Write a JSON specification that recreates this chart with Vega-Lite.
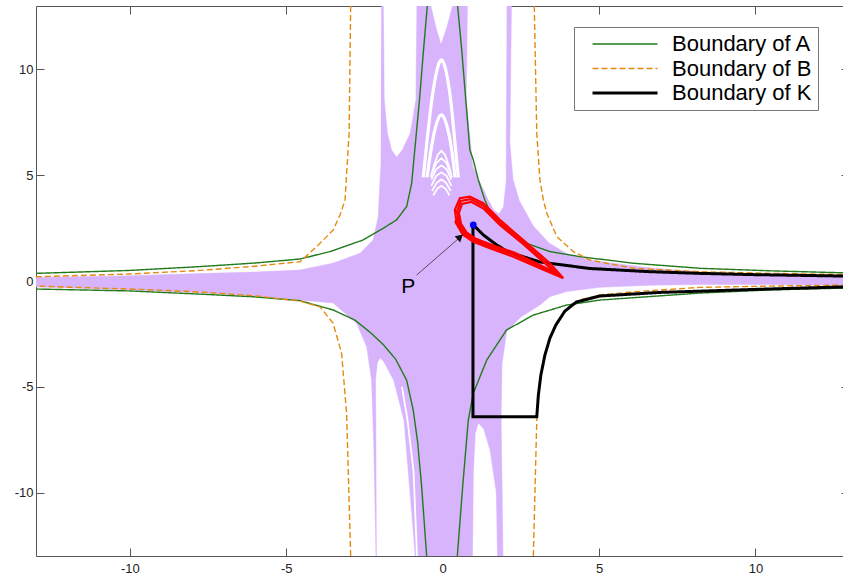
{
  "$schema": "https://vega.github.io/schema/vega-lite/v6.json",
  "width": 807,
  "height": 550,
  "padding": {"left": 36, "top": 6, "right": 0, "bottom": 24},
  "autosize": {"type": "none"},
  "background": "white",
  "config": {
    "view": {"stroke": null},
    "font": "Liberation Sans",
    "axis": {
      "domainColor": "#555555",
      "tickColor": "#555555",
      "labelColor": "#222222",
      "labelFont": "Liberation Sans",
      "labelFontSize": 13,
      "grid": false,
      "title": null,
      "tickSize": -8,
      "domainWidth": 1,
      "tickWidth": 1
    }
  },
  "datasets": {
    "env": [
      {"part": "env", "i": 1, "x": -1.96, "y": 13},
      {"part": "env", "i": 2, "x": 2.2, "y": 13},
      {"part": "env", "i": 3, "x": 2.15, "y": 6.5},
      {"part": "env", "i": 4, "x": 2.25, "y": 4.8},
      {"part": "env", "i": 5, "x": 2.45, "y": 3.8},
      {"part": "env", "i": 6, "x": 2.9, "y": 2.6},
      {"part": "env", "i": 7, "x": 3.4, "y": 1.8},
      {"part": "env", "i": 8, "x": 3.96, "y": 1.3},
      {"part": "env", "i": 9, "x": 4.71, "y": 0.98},
      {"part": "env", "i": 10, "x": 6.63, "y": 0.62},
      {"part": "env", "i": 11, "x": 8.23, "y": 0.42},
      {"part": "env", "i": 12, "x": 10, "y": 0.31},
      {"part": "env", "i": 13, "x": 13, "y": 0.2},
      {"part": "env", "i": 14, "x": 13, "y": -0.2},
      {"part": "env", "i": 15, "x": 10, "y": -0.16},
      {"part": "env", "i": 16, "x": 8.23, "y": -0.16},
      {"part": "env", "i": 17, "x": 6.63, "y": -0.2},
      {"part": "env", "i": 18, "x": 5.03, "y": -0.3},
      {"part": "env", "i": 19, "x": 3.96, "y": -0.5},
      {"part": "env", "i": 20, "x": 3.43, "y": -0.74},
      {"part": "env", "i": 21, "x": 3.11, "y": -1.14},
      {"part": "env", "i": 22, "x": 2.5, "y": -1.7},
      {"part": "env", "i": 23, "x": 2.05, "y": -2.37},
      {"part": "env", "i": 24, "x": 1.9, "y": -3.9},
      {"part": "env", "i": 25, "x": 1.87, "y": -6.4},
      {"part": "env", "i": 26, "x": 1.93, "y": -13},
      {"part": "env", "i": 27, "x": -2.13, "y": -13},
      {"part": "env", "i": 28, "x": -2.2, "y": -7.84},
      {"part": "env", "i": 29, "x": -2.27, "y": -4.69},
      {"part": "env", "i": 30, "x": -2.43, "y": -3.1},
      {"part": "env", "i": 31, "x": -2.75, "y": -2.0},
      {"part": "env", "i": 32, "x": -3.5, "y": -1.04},
      {"part": "env", "i": 33, "x": -4.56, "y": -0.9},
      {"part": "env", "i": 34, "x": -6, "y": -0.7},
      {"part": "env", "i": 35, "x": -7.76, "y": -0.55},
      {"part": "env", "i": 36, "x": -10, "y": -0.42},
      {"part": "env", "i": 37, "x": -13, "y": -0.28},
      {"part": "env", "i": 38, "x": -13, "y": 0.17},
      {"part": "env", "i": 39, "x": -10, "y": 0.25},
      {"part": "env", "i": 40, "x": -7.76, "y": 0.35},
      {"part": "env", "i": 41, "x": -6, "y": 0.42},
      {"part": "env", "i": 42, "x": -4.56, "y": 0.52},
      {"part": "env", "i": 43, "x": -3.51, "y": 0.84},
      {"part": "env", "i": 44, "x": -2.64, "y": 1.31},
      {"part": "env", "i": 45, "x": -2.22, "y": 1.94},
      {"part": "env", "i": 46, "x": -2.06, "y": 3.04},
      {"part": "env", "i": 47, "x": -1.98, "y": 5.4}
    ],
    "holes": [
      {"part": "w1", "i": 1, "x": -1.88, "y": 13},
      {"part": "w1", "i": 2, "x": -1.85, "y": 8.57},
      {"part": "w1", "i": 3, "x": -1.75, "y": 7.0},
      {"part": "w1", "i": 4, "x": -1.62, "y": 6.2},
      {"part": "w1", "i": 5, "x": -1.47, "y": 5.88},
      {"part": "w1", "i": 6, "x": -1.3, "y": 6.2},
      {"part": "w1", "i": 7, "x": -1.05, "y": 7.0},
      {"part": "w1", "i": 8, "x": -0.87, "y": 8.57},
      {"part": "w1", "i": 9, "x": -0.84, "y": 13},
      {"part": "w2", "i": 1, "x": 0.81, "y": 13},
      {"part": "w2", "i": 2, "x": 0.77, "y": 8.57},
      {"part": "w2", "i": 3, "x": 0.98, "y": 5.41},
      {"part": "w2", "i": 4, "x": 1.45, "y": 3.9},
      {"part": "w2", "i": 5, "x": 1.65, "y": 3.35},
      {"part": "w2", "i": 6, "x": 1.8, "y": 3.2},
      {"part": "w2", "i": 7, "x": 1.93, "y": 3.5},
      {"part": "w2", "i": 8, "x": 2.02, "y": 4.8},
      {"part": "w2", "i": 9, "x": 2.02, "y": 6.5},
      {"part": "w2", "i": 10, "x": 2.04, "y": 13},
      {"part": "wt", "i": 1, "x": -0.36, "y": 13},
      {"part": "wt", "i": 2, "x": -0.2, "y": 12},
      {"part": "wt", "i": 3, "x": -0.05, "y": 11.25},
      {"part": "wt", "i": 4, "x": 0.12, "y": 12},
      {"part": "wt", "i": 5, "x": 0.3, "y": 13},
      {"part": "wc", "i": 1, "x": -2.1, "y": -13},
      {"part": "wc", "i": 2, "x": -2.12, "y": -6.6},
      {"part": "wc", "i": 3, "x": -2.13, "y": -4.69},
      {"part": "wc", "i": 4, "x": -2.07, "y": -3.85},
      {"part": "wc", "i": 5, "x": -2.0, "y": -3.66},
      {"part": "wc", "i": 6, "x": -1.9, "y": -3.8},
      {"part": "wc", "i": 7, "x": -1.58, "y": -4.69},
      {"part": "wc", "i": 8, "x": -1.25, "y": -6.6},
      {"part": "wc", "i": 9, "x": -0.89, "y": -13},
      {"part": "wd", "i": 1, "x": 0.97, "y": -13},
      {"part": "wd", "i": 2, "x": 1.0, "y": -9},
      {"part": "wd", "i": 3, "x": 1.06, "y": -7.2},
      {"part": "wd", "i": 4, "x": 1.15, "y": -6.75},
      {"part": "wd", "i": 5, "x": 1.3, "y": -7.0},
      {"part": "wd", "i": 6, "x": 1.5, "y": -8},
      {"part": "wd", "i": 7, "x": 1.7, "y": -10},
      {"part": "wd", "i": 8, "x": 1.74, "y": -13}
    ],
    "wide": [
      {"part": "s1", "i": 1, "x": -0.62, "y": 4.9},
      {"part": "s1", "i": 2, "x": -0.5, "y": 6.6},
      {"part": "s1", "i": 3, "x": -0.36, "y": 8.4},
      {"part": "s1", "i": 4, "x": -0.22, "y": 9.7},
      {"part": "s1", "i": 5, "x": -0.1, "y": 10.35},
      {"part": "s1", "i": 6, "x": -0.04, "y": 10.45},
      {"part": "s1", "i": 7, "x": 0.02, "y": 10.35},
      {"part": "s1", "i": 8, "x": 0.14, "y": 9.7},
      {"part": "s1", "i": 9, "x": 0.27, "y": 8.4},
      {"part": "s1", "i": 10, "x": 0.39, "y": 6.6},
      {"part": "s1", "i": 11, "x": 0.5, "y": 4.9},
      {"part": "s2", "i": 1, "x": -0.5, "y": 4.9},
      {"part": "s2", "i": 2, "x": -0.36, "y": 6.3},
      {"part": "s2", "i": 3, "x": -0.24, "y": 7.2},
      {"part": "s2", "i": 4, "x": -0.13, "y": 7.7},
      {"part": "s2", "i": 5, "x": -0.04, "y": 7.85},
      {"part": "s2", "i": 6, "x": 0.05, "y": 7.7},
      {"part": "s2", "i": 7, "x": 0.16, "y": 7.2},
      {"part": "s2", "i": 8, "x": 0.28, "y": 6.3},
      {"part": "s2", "i": 9, "x": 0.4, "y": 4.9}
    ],
    "thin": [
      {"part": "s3", "i": 1, "x": -0.38, "y": 4.9},
      {"part": "s3", "i": 2, "x": -0.27, "y": 5.5},
      {"part": "s3", "i": 3, "x": -0.15, "y": 5.98},
      {"part": "s3", "i": 4, "x": -0.04, "y": 6.15},
      {"part": "s3", "i": 5, "x": 0.07, "y": 5.98},
      {"part": "s3", "i": 6, "x": 0.19, "y": 5.5},
      {"part": "s3", "i": 7, "x": 0.3, "y": 4.9},
      {"part": "a1", "i": 1, "x": -0.34, "y": 5.1},
      {"part": "a1", "i": 2, "x": -0.2, "y": 5.58},
      {"part": "a1", "i": 3, "x": -0.04, "y": 5.8},
      {"part": "a1", "i": 4, "x": 0.12, "y": 5.58},
      {"part": "a1", "i": 5, "x": 0.26, "y": 5.1},
      {"part": "a2", "i": 1, "x": -0.36, "y": 4.8},
      {"part": "a2", "i": 2, "x": -0.21, "y": 5.28},
      {"part": "a2", "i": 3, "x": -0.04, "y": 5.47},
      {"part": "a2", "i": 4, "x": 0.13, "y": 5.28},
      {"part": "a2", "i": 5, "x": 0.28, "y": 4.8},
      {"part": "a3", "i": 1, "x": -0.36, "y": 4.5},
      {"part": "a3", "i": 2, "x": -0.21, "y": 4.96},
      {"part": "a3", "i": 3, "x": -0.04, "y": 5.14},
      {"part": "a3", "i": 4, "x": 0.13, "y": 4.96},
      {"part": "a3", "i": 5, "x": 0.28, "y": 4.5},
      {"part": "a4", "i": 1, "x": -0.34, "y": 4.25},
      {"part": "a4", "i": 2, "x": -0.19, "y": 4.64},
      {"part": "a4", "i": 3, "x": -0.04, "y": 4.8},
      {"part": "a4", "i": 4, "x": 0.11, "y": 4.64},
      {"part": "a4", "i": 5, "x": 0.26, "y": 4.25},
      {"part": "a5", "i": 1, "x": -0.3, "y": 4.05},
      {"part": "a5", "i": 2, "x": -0.17, "y": 4.37},
      {"part": "a5", "i": 3, "x": -0.04, "y": 4.5},
      {"part": "a5", "i": 4, "x": 0.09, "y": 4.37},
      {"part": "a5", "i": 5, "x": 0.22, "y": 4.05},
      {"part": "sl", "i": 1, "x": -1.3, "y": -5.0},
      {"part": "sl", "i": 2, "x": -1.12, "y": -6.6},
      {"part": "sl", "i": 3, "x": -0.93, "y": -9},
      {"part": "sl", "i": 4, "x": -0.82, "y": -13}
    ],
    "curves": [
      {"series": "Boundary of A", "branch": "a1", "i": 1, "x": -0.49, "y": 13},
      {"series": "Boundary of A", "branch": "a1", "i": 2, "x": -0.61, "y": 10.93},
      {"series": "Boundary of A", "branch": "a1", "i": 3, "x": -0.74, "y": 8.57},
      {"series": "Boundary of A", "branch": "a1", "i": 4, "x": -0.89, "y": 6.2},
      {"series": "Boundary of A", "branch": "a1", "i": 5, "x": -0.99, "y": 4.62},
      {"series": "Boundary of A", "branch": "a1", "i": 6, "x": -1.15, "y": 3.52},
      {"series": "Boundary of A", "branch": "a1", "i": 7, "x": -1.47, "y": 2.89},
      {"series": "Boundary of A", "branch": "a1", "i": 8, "x": -1.9, "y": 2.49},
      {"series": "Boundary of A", "branch": "a1", "i": 9, "x": -2.54, "y": 1.94},
      {"series": "Boundary of A", "branch": "a1", "i": 10, "x": -3.6, "y": 1.39},
      {"series": "Boundary of A", "branch": "a1", "i": 11, "x": -4.56, "y": 1.04},
      {"series": "Boundary of A", "branch": "a1", "i": 12, "x": -6, "y": 0.85},
      {"series": "Boundary of A", "branch": "a1", "i": 13, "x": -7.76, "y": 0.68},
      {"series": "Boundary of A", "branch": "a1", "i": 14, "x": -10, "y": 0.5},
      {"series": "Boundary of A", "branch": "a1", "i": 15, "x": -13, "y": 0.36},
      {"series": "Boundary of A", "branch": "a2", "i": 1, "x": 0.48, "y": 13},
      {"series": "Boundary of A", "branch": "a2", "i": 2, "x": 0.61, "y": 10.93},
      {"series": "Boundary of A", "branch": "a2", "i": 3, "x": 0.74, "y": 8.57},
      {"series": "Boundary of A", "branch": "a2", "i": 4, "x": 0.87, "y": 6.2},
      {"series": "Boundary of A", "branch": "a2", "i": 5, "x": 0.98, "y": 5.73},
      {"series": "Boundary of A", "branch": "a2", "i": 6, "x": 1.14, "y": 4.78},
      {"series": "Boundary of A", "branch": "a2", "i": 7, "x": 1.35, "y": 3.83},
      {"series": "Boundary of A", "branch": "a2", "i": 8, "x": 1.51, "y": 3.28},
      {"series": "Boundary of A", "branch": "a2", "i": 9, "x": 2.05, "y": 2.41},
      {"series": "Boundary of A", "branch": "a2", "i": 10, "x": 2.69, "y": 1.78},
      {"series": "Boundary of A", "branch": "a2", "i": 11, "x": 3.43, "y": 1.39},
      {"series": "Boundary of A", "branch": "a2", "i": 12, "x": 4.39, "y": 1.15},
      {"series": "Boundary of A", "branch": "a2", "i": 13, "x": 6.09, "y": 0.84},
      {"series": "Boundary of A", "branch": "a2", "i": 14, "x": 8.23, "y": 0.6},
      {"series": "Boundary of A", "branch": "a2", "i": 15, "x": 10.5, "y": 0.48},
      {"series": "Boundary of A", "branch": "a2", "i": 16, "x": 13, "y": 0.38},
      {"series": "Boundary of A", "branch": "a3", "i": 1, "x": -13, "y": -0.38},
      {"series": "Boundary of A", "branch": "a3", "i": 2, "x": -10, "y": -0.47},
      {"series": "Boundary of A", "branch": "a3", "i": 3, "x": -7.76, "y": -0.62},
      {"series": "Boundary of A", "branch": "a3", "i": 4, "x": -6, "y": -0.75},
      {"series": "Boundary of A", "branch": "a3", "i": 5, "x": -4.56, "y": -0.93},
      {"series": "Boundary of A", "branch": "a3", "i": 6, "x": -3.5, "y": -1.37},
      {"series": "Boundary of A", "branch": "a3", "i": 7, "x": -2.8, "y": -1.85},
      {"series": "Boundary of A", "branch": "a3", "i": 8, "x": -2.3, "y": -2.45},
      {"series": "Boundary of A", "branch": "a3", "i": 9, "x": -1.9, "y": -3.0},
      {"series": "Boundary of A", "branch": "a3", "i": 10, "x": -1.5, "y": -3.7},
      {"series": "Boundary of A", "branch": "a3", "i": 11, "x": -1.15, "y": -4.69},
      {"series": "Boundary of A", "branch": "a3", "i": 12, "x": -0.94, "y": -6.1},
      {"series": "Boundary of A", "branch": "a3", "i": 13, "x": -0.8, "y": -7.6},
      {"series": "Boundary of A", "branch": "a3", "i": 14, "x": -0.67, "y": -9.73},
      {"series": "Boundary of A", "branch": "a3", "i": 15, "x": -0.51, "y": -13},
      {"series": "Boundary of A", "branch": "a4", "i": 1, "x": 13, "y": -0.33},
      {"series": "Boundary of A", "branch": "a4", "i": 2, "x": 10.5, "y": -0.42},
      {"series": "Boundary of A", "branch": "a4", "i": 3, "x": 8.23, "y": -0.57},
      {"series": "Boundary of A", "branch": "a4", "i": 4, "x": 5.03, "y": -0.9},
      {"series": "Boundary of A", "branch": "a4", "i": 5, "x": 3.96, "y": -1.14},
      {"series": "Boundary of A", "branch": "a4", "i": 6, "x": 2.9, "y": -1.61},
      {"series": "Boundary of A", "branch": "a4", "i": 7, "x": 2.04, "y": -2.32},
      {"series": "Boundary of A", "branch": "a4", "i": 8, "x": 1.41, "y": -3.74},
      {"series": "Boundary of A", "branch": "a4", "i": 9, "x": 0.98, "y": -5.31},
      {"series": "Boundary of A", "branch": "a4", "i": 10, "x": 0.82, "y": -6.58},
      {"series": "Boundary of A", "branch": "a4", "i": 11, "x": 0.64, "y": -9.73},
      {"series": "Boundary of A", "branch": "a4", "i": 12, "x": 0.47, "y": -13},
      {"series": "Boundary of B", "branch": "b1", "i": 1, "x": -2.94, "y": 13},
      {"series": "Boundary of B", "branch": "b1", "i": 2, "x": -2.99, "y": 6.99},
      {"series": "Boundary of B", "branch": "b1", "i": 3, "x": -3.12, "y": 3.83},
      {"series": "Boundary of B", "branch": "b1", "i": 4, "x": -3.28, "y": 3.12},
      {"series": "Boundary of B", "branch": "b1", "i": 5, "x": -3.5, "y": 2.41},
      {"series": "Boundary of B", "branch": "b1", "i": 6, "x": -4.03, "y": 1.62},
      {"series": "Boundary of B", "branch": "b1", "i": 7, "x": -4.56, "y": 0.91},
      {"series": "Boundary of B", "branch": "b1", "i": 8, "x": -6, "y": 0.7},
      {"series": "Boundary of B", "branch": "b1", "i": 9, "x": -7.76, "y": 0.5},
      {"series": "Boundary of B", "branch": "b1", "i": 10, "x": -10, "y": 0.33},
      {"series": "Boundary of B", "branch": "b1", "i": 11, "x": -13, "y": 0.2},
      {"series": "Boundary of B", "branch": "b2", "i": 1, "x": -2.94, "y": -13},
      {"series": "Boundary of B", "branch": "b2", "i": 2, "x": -3.07, "y": -6.26},
      {"series": "Boundary of B", "branch": "b2", "i": 3, "x": -3.23, "y": -3.42},
      {"series": "Boundary of B", "branch": "b2", "i": 4, "x": -3.5, "y": -2.0},
      {"series": "Boundary of B", "branch": "b2", "i": 5, "x": -3.92, "y": -1.22},
      {"series": "Boundary of B", "branch": "b2", "i": 6, "x": -4.56, "y": -0.95},
      {"series": "Boundary of B", "branch": "b2", "i": 7, "x": -6, "y": -0.7},
      {"series": "Boundary of B", "branch": "b2", "i": 8, "x": -7.76, "y": -0.52},
      {"series": "Boundary of B", "branch": "b2", "i": 9, "x": -10, "y": -0.38},
      {"series": "Boundary of B", "branch": "b2", "i": 10, "x": -13, "y": -0.24},
      {"series": "Boundary of B", "branch": "b3", "i": 1, "x": 2.93, "y": 13},
      {"series": "Boundary of B", "branch": "b3", "i": 2, "x": 3.01, "y": 6.99},
      {"series": "Boundary of B", "branch": "b3", "i": 3, "x": 3.11, "y": 4.78},
      {"series": "Boundary of B", "branch": "b3", "i": 4, "x": 3.22, "y": 3.83},
      {"series": "Boundary of B", "branch": "b3", "i": 5, "x": 3.33, "y": 3.2},
      {"series": "Boundary of B", "branch": "b3", "i": 6, "x": 3.65, "y": 2.1},
      {"series": "Boundary of B", "branch": "b3", "i": 7, "x": 4.18, "y": 1.39},
      {"series": "Boundary of B", "branch": "b3", "i": 8, "x": 4.71, "y": 0.99},
      {"series": "Boundary of B", "branch": "b3", "i": 9, "x": 6.1, "y": 0.6},
      {"series": "Boundary of B", "branch": "b3", "i": 10, "x": 8.23, "y": 0.44},
      {"series": "Boundary of B", "branch": "b3", "i": 11, "x": 10.5, "y": 0.36},
      {"series": "Boundary of B", "branch": "b3", "i": 12, "x": 13, "y": 0.3},
      {"series": "Boundary of B", "branch": "b4", "i": 1, "x": 2.9, "y": -13},
      {"series": "Boundary of B", "branch": "b4", "i": 2, "x": 3.01, "y": -6.58},
      {"series": "Boundary of B", "branch": "b4", "i": 3, "x": 3.06, "y": -5.4},
      {"series": "Boundary of B", "branch": "b4", "i": 4, "x": 3.14, "y": -4.45},
      {"series": "Boundary of B", "branch": "b4", "i": 5, "x": 3.27, "y": -3.5},
      {"series": "Boundary of B", "branch": "b4", "i": 6, "x": 3.43, "y": -2.7},
      {"series": "Boundary of B", "branch": "b4", "i": 7, "x": 3.62, "y": -2.08},
      {"series": "Boundary of B", "branch": "b4", "i": 8, "x": 3.91, "y": -1.42},
      {"series": "Boundary of B", "branch": "b4", "i": 9, "x": 4.39, "y": -0.9},
      {"series": "Boundary of B", "branch": "b4", "i": 10, "x": 5.03, "y": -0.66},
      {"series": "Boundary of B", "branch": "b4", "i": 11, "x": 6.1, "y": -0.51},
      {"series": "Boundary of B", "branch": "b4", "i": 12, "x": 8.23, "y": -0.3},
      {"series": "Boundary of B", "branch": "b4", "i": 13, "x": 10.5, "y": -0.24},
      {"series": "Boundary of B", "branch": "b4", "i": 14, "x": 13, "y": -0.19},
      {"series": "Boundary of K", "branch": "k", "i": 1, "x": 13, "y": 0.23},
      {"series": "Boundary of K", "branch": "k", "i": 2, "x": 10, "y": 0.3},
      {"series": "Boundary of K", "branch": "k", "i": 3, "x": 8.23, "y": 0.36},
      {"series": "Boundary of K", "branch": "k", "i": 4, "x": 6.63, "y": 0.44},
      {"series": "Boundary of K", "branch": "k", "i": 5, "x": 4.71, "y": 0.59},
      {"series": "Boundary of K", "branch": "k", "i": 6, "x": 3.11, "y": 0.9},
      {"series": "Boundary of K", "branch": "k", "i": 7, "x": 2.1, "y": 1.37},
      {"series": "Boundary of K", "branch": "k", "i": 8, "x": 1.73, "y": 1.7},
      {"series": "Boundary of K", "branch": "k", "i": 9, "x": 1.3, "y": 2.18},
      {"series": "Boundary of K", "branch": "k", "i": 10, "x": 0.98, "y": 2.65},
      {"series": "Boundary of K", "branch": "k", "i": 11, "x": 0.97, "y": 2.5},
      {"series": "Boundary of K", "branch": "k", "i": 12, "x": 0.97, "y": -6.42},
      {"series": "Boundary of K", "branch": "k", "i": 13, "x": 3.01, "y": -6.42},
      {"series": "Boundary of K", "branch": "k", "i": 14, "x": 3.06, "y": -5.4},
      {"series": "Boundary of K", "branch": "k", "i": 15, "x": 3.14, "y": -4.45},
      {"series": "Boundary of K", "branch": "k", "i": 16, "x": 3.27, "y": -3.5},
      {"series": "Boundary of K", "branch": "k", "i": 17, "x": 3.43, "y": -2.7},
      {"series": "Boundary of K", "branch": "k", "i": 18, "x": 3.62, "y": -2.08},
      {"series": "Boundary of K", "branch": "k", "i": 19, "x": 3.91, "y": -1.42},
      {"series": "Boundary of K", "branch": "k", "i": 20, "x": 4.28, "y": -0.99},
      {"series": "Boundary of K", "branch": "k", "i": 21, "x": 5.03, "y": -0.71},
      {"series": "Boundary of K", "branch": "k", "i": 22, "x": 6.95, "y": -0.54},
      {"series": "Boundary of K", "branch": "k", "i": 23, "x": 10.15, "y": -0.39},
      {"series": "Boundary of K", "branch": "k", "i": 24, "x": 13, "y": -0.27}
    ],
    "loops": [
      {"part": "outer", "i": 1, "x": 3.86, "y": 0.13},
      {"part": "outer", "i": 2, "x": 3.43, "y": 0.84},
      {"part": "outer", "i": 3, "x": 2.58, "y": 1.94},
      {"part": "outer", "i": 4, "x": 1.83, "y": 2.89},
      {"part": "outer", "i": 5, "x": 1.3, "y": 3.68},
      {"part": "outer", "i": 6, "x": 0.87, "y": 3.99},
      {"part": "outer", "i": 7, "x": 0.55, "y": 3.91},
      {"part": "outer", "i": 8, "x": 0.39, "y": 3.36},
      {"part": "outer", "i": 9, "x": 0.45, "y": 2.73},
      {"part": "outer", "i": 10, "x": 0.66, "y": 2.18},
      {"part": "outer", "i": 11, "x": 0.98, "y": 1.86},
      {"part": "outer", "i": 12, "x": 1.51, "y": 1.55},
      {"part": "outer", "i": 13, "x": 2.26, "y": 1.15},
      {"part": "outer", "i": 14, "x": 3.11, "y": 0.6},
      {"part": "outer", "i": 15, "x": 3.86, "y": 0.13},
      {"part": "mid", "i": 1, "x": 3.75, "y": 0.25},
      {"part": "mid", "i": 2, "x": 2.58, "y": 1.85},
      {"part": "mid", "i": 3, "x": 1.83, "y": 2.77},
      {"part": "mid", "i": 4, "x": 1.31, "y": 3.55},
      {"part": "mid", "i": 5, "x": 0.89, "y": 3.87},
      {"part": "mid", "i": 6, "x": 0.58, "y": 3.78},
      {"part": "mid", "i": 7, "x": 0.46, "y": 3.29},
      {"part": "mid", "i": 8, "x": 0.52, "y": 2.72},
      {"part": "mid", "i": 9, "x": 0.72, "y": 2.23},
      {"part": "mid", "i": 10, "x": 1.02, "y": 1.93},
      {"part": "mid", "i": 11, "x": 1.55, "y": 1.63},
      {"part": "mid", "i": 12, "x": 2.28, "y": 1.24},
      {"part": "mid", "i": 13, "x": 3.11, "y": 0.68},
      {"part": "mid", "i": 14, "x": 3.75, "y": 0.25},
      {"part": "inner", "i": 1, "x": 3.62, "y": 0.38},
      {"part": "inner", "i": 2, "x": 2.57, "y": 1.75},
      {"part": "inner", "i": 3, "x": 1.83, "y": 2.65},
      {"part": "inner", "i": 4, "x": 1.32, "y": 3.41},
      {"part": "inner", "i": 5, "x": 0.91, "y": 3.74},
      {"part": "inner", "i": 6, "x": 0.62, "y": 3.64},
      {"part": "inner", "i": 7, "x": 0.52, "y": 3.22},
      {"part": "inner", "i": 8, "x": 0.59, "y": 2.7},
      {"part": "inner", "i": 9, "x": 0.78, "y": 2.27},
      {"part": "inner", "i": 10, "x": 1.06, "y": 1.99},
      {"part": "inner", "i": 11, "x": 1.58, "y": 1.7},
      {"part": "inner", "i": 12, "x": 2.31, "y": 1.33},
      {"part": "inner", "i": 13, "x": 3.11, "y": 0.76},
      {"part": "inner", "i": 14, "x": 3.62, "y": 0.38}
    ],
    "blob": [
      {"i": 1, "x": 0.46, "y": 2.79},
      {"i": 2, "x": 0.65, "y": 2.32},
      {"i": 3, "x": 1.03, "y": 1.94},
      {"i": 4, "x": 1.58, "y": 1.61},
      {"i": 5, "x": 1.99, "y": 1.37}
    ],
    "arrow": [
      {"i": 1, "x": -0.83, "y": 0.28},
      {"i": 2, "x": 0.62, "y": 2.15}
    ],
    "head": [{"x": 0.56, "y": 2.08}],
    "point": [{"name": "P", "x": 0.98, "y": 2.65}],
    "label": [{"text": "P", "x": -1.1, "y": -0.27}]
  },
  "encoding": {
    "x": {"field": "x", "type": "quantitative", "scale": {"domain": [-13, 12.8], "nice": false, "zero": false}, "axis": null},
    "y": {"field": "y", "type": "quantitative", "scale": {"domain": [-13, 13], "nice": false, "zero": false}, "axis": null}
  },
  "layer": [
    {
      "data": {"name": "env"},
      "mark": {"type": "line", "fill": "#d8b4fc", "color": "#d8b4fc", "strokeWidth": 0.5, "clip": true},
      "encoding": {
        "x": {"field": "x", "type": "quantitative", "scale": {"domain": [-13, 12.8], "nice": false, "zero": false},
              "axis": {"orient": "bottom", "values": [-10, -5, 0, 5, 10], "labelPadding": 14, "labelExpr": "'' + datum.value"}},
        "y": {"field": "y", "type": "quantitative", "scale": {"domain": [-13, 13], "nice": false, "zero": false},
              "axis": {"orient": "left", "values": [-10, -5, 0, 5, 10], "labelPadding": 11, "labelExpr": "'' + datum.value"}},
        "detail": {"field": "part"},
        "order": {"field": "i"}
      }
    },
    {
      "data": {"name": "holes"},
      "mark": {"type": "line", "fill": "white", "color": "white", "strokeWidth": 0.5, "clip": true},
      "encoding": {"detail": {"field": "part"}, "order": {"field": "i"}}
    },
    {
      "data": {"name": "wide"},
      "mark": {"type": "line", "color": "white", "strokeWidth": 3.2, "interpolate": "monotone", "clip": true},
      "encoding": {"detail": {"field": "part"}, "order": {"field": "i"}}
    },
    {
      "data": {"name": "thin"},
      "mark": {"type": "line", "color": "white", "strokeWidth": 1.8, "clip": true},
      "encoding": {"detail": {"field": "part"}, "order": {"field": "i"}}
    },
    {
      "data": {"name": "curves"},
      "transform": [{"filter": "datum.series != 'Boundary of K'"}],
      "mark": {"type": "line", "clip": true},
      "encoding": {
        "x": {"field": "x", "type": "quantitative", "scale": {"domain": [-13, 12.8], "nice": false, "zero": false},
              "axis": {"orient": "top", "values": [-10, -5, 0, 5, 10], "labels": false}},
        "y": {"field": "y", "type": "quantitative", "scale": {"domain": [-13, 13], "nice": false, "zero": false},
              "axis": {"orient": "right", "values": [-10, -5, 0, 5, 10], "labels": false, "domain": false, "tickSize": -2}},
        "detail": {"field": "branch"},
        "order": {"field": "i"},
        "color": {"field": "series", "type": "ordinal",
                  "scale": {"domain": ["Boundary of A", "Boundary of B", "Boundary of K"], "range": ["#217a1c", "#e58a10", "#000000"]},
                  "legend": {"orient": "none", "legendX": 538, "legendY": 21, "title": null, "labelFontSize": 22, "labelFont": "Liberation Sans", "labelColor": "#000000",
                             "symbolType": "M-5,0L5,0", "symbolSize": 169, "strokeColor": "#777777", "fillColor": "white", "padding": 6, "rowPadding": 2.5,
                             "labelOffset": 36, "symbolOffset": 34, "labelLimit": 300}},
        "strokeDash": {"field": "series", "type": "ordinal",
                       "scale": {"domain": ["Boundary of A", "Boundary of B", "Boundary of K"], "range": [[1, 0], [6, 3], [1, 0]]}},
        "strokeWidth": {"field": "series", "type": "ordinal",
                        "scale": {"type": "ordinal", "domain": ["Boundary of A", "Boundary of B", "Boundary of K"], "range": [1.4, 1.4, 3]}}
      }
    },
    {
      "data": {"name": "curves"},
      "transform": [{"filter": "datum.series == 'Boundary of K'"}],
      "mark": {"type": "line", "clip": true, "strokeJoin": "miter"},
      "encoding": {
        "detail": {"field": "branch"},
        "order": {"field": "i"},
        "color": {"field": "series", "type": "ordinal",
                  "scale": {"domain": ["Boundary of A", "Boundary of B", "Boundary of K"], "range": ["#217a1c", "#e58a10", "#000000"]}},
        "strokeDash": {"field": "series", "type": "ordinal",
                       "scale": {"domain": ["Boundary of A", "Boundary of B", "Boundary of K"], "range": [[1, 0], [6, 3], [1, 0]]}},
        "strokeWidth": {"field": "series", "type": "ordinal",
                        "scale": {"type": "ordinal", "domain": ["Boundary of A", "Boundary of B", "Boundary of K"], "range": [1.4, 1.4, 3]}}
      }
    },
    {
      "data": {"name": "loops"},
      "mark": {"type": "line", "color": "#ff0000", "strokeWidth": 2.2, "clip": true},
      "encoding": {"detail": {"field": "part"}, "order": {"field": "i"}}
    },
    {
      "data": {"name": "blob"},
      "mark": {"type": "line", "color": "#ff0000", "strokeWidth": 5, "strokeCap": "round", "clip": true},
      "encoding": {"order": {"field": "i"}}
    },
    {
      "data": {"name": "arrow"},
      "mark": {"type": "line", "color": "#333333", "strokeWidth": 0.8, "clip": true},
      "encoding": {"order": {"field": "i"}}
    },
    {
      "data": {"name": "head"},
      "mark": {"type": "point", "shape": "triangle-up", "filled": true, "color": "#111111", "opacity": 1, "size": 70, "angle": 49, "clip": true},
      "encoding": {}
    },
    {
      "data": {"name": "point"},
      "mark": {"type": "point", "shape": "circle", "filled": true, "color": "#0000ff", "opacity": 1, "size": 45, "clip": true},
      "encoding": {}
    },
    {
      "data": {"name": "label"},
      "mark": {"type": "text", "fontSize": 21, "font": "Liberation Sans", "color": "#000000", "align": "center", "baseline": "middle"},
      "encoding": {"text": {"field": "text"}}
    }
  ],
  "resolve": {"axis": {"x": "independent", "y": "independent"}}
}
